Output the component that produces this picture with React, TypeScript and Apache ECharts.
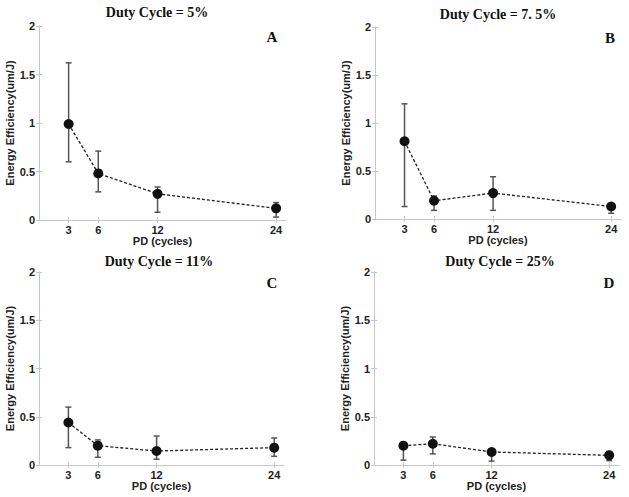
import React, { useEffect, useRef } from "react";
import * as echarts from "echarts";

const pdCycles = [3, 6, 12, 24];
const xTicks = [3, 6, 12, 24];

const titles = ["Duty Cycle = 5%", "Duty Cycle = 7. 5%", "Duty Cycle = 11%", "Duty Cycle = 25%"];
const letters = ["A", "B", "C", "D"];

const meanA = [0.99, 0.48, 0.27, 0.12];
const lowA = [0.6, 0.29, 0.08, 0.03];
const highA = [1.62, 0.71, 0.34, 0.18];

const meanB = [0.81, 0.19, 0.27, 0.13];
const lowB = [0.13, 0.09, 0.09, 0.06];
const highB = [1.2, 0.24, 0.44, 0.16];

const meanC = [0.44, 0.2, 0.145, 0.18];
const lowC = [0.18, 0.08, 0.06, 0.09];
const highC = [0.6, 0.26, 0.3, 0.28];

const meanD = [0.2, 0.22, 0.135, 0.1];
const lowD = [0.05, 0.115, 0.04, 0.045];
const highD = [0.21, 0.29, 0.16, 0.14];

const means = [meanA, meanB, meanC, meanD];
const lows = [lowA, lowB, lowC, lowD];
const highs = [highA, highB, highC, highD];

const grids = [
  { left: 39, top: 26, width: 247, height: 194 },
  { left: 375, top: 27, width: 246, height: 192 },
  { left: 39, top: 272, width: 245, height: 193 },
  { left: 374, top: 272, width: 245, height: 193 },
];
const titlePos = [
  [157, 5],
  [498, 7],
  [159, 254],
  [500, 254],
];
const letterPos = [
  [272, 37],
  [610, 38],
  [272, 283],
  [609, 283],
];

const SANS = "'Liberation Sans', Arial, sans-serif";
const SERIF = "'Liberation Serif', 'Times New Roman', serif";
const frameColor = "#c8c8c8";

export default function App() {
  const ref = useRef<HTMLDivElement>(null);
  useEffect(() => {
    if (!ref.current) return;
    const chart = echarts.init(ref.current, null, { renderer: "svg" });
    const xAxis: any[] = [];
    const yAxis: any[] = [];
    const series: any[] = [];
    grids.forEach((g, i) => {
      xAxis.push({
        type: "value",
        gridIndex: i,
        min: 0,
        max: 25,
        position: "bottom",
        name: "PD (cycles)",
        nameLocation: "middle",
        nameGap: 11,
        nameTextStyle: { fontFamily: SANS, fontWeight: "bold", fontSize: 11, color: "#222" },
        axisLine: { show: true, lineStyle: { color: frameColor, width: 1 } },
        axisTick: { show: true, inside: true, length: 3, customValues: xTicks, lineStyle: { color: frameColor } },
        axisLabel: { show: true, customValues: xTicks, margin: 4, fontFamily: SANS, fontWeight: "bold", fontSize: 11, color: "#222" },
        splitLine: { show: false },
      });
      xAxis.push({
        type: "value",
        gridIndex: i,
        min: 0,
        max: 25,
        position: "top",
        axisLine: { show: true, lineStyle: { color: frameColor, width: 1 } },
        axisTick: { show: true, inside: true, length: 3, customValues: xTicks, lineStyle: { color: frameColor } },
        axisLabel: { show: false },
        splitLine: { show: false },
      });
      yAxis.push({
        type: "value",
        gridIndex: i,
        min: 0,
        max: 2,
        interval: 0.5,
        position: "left",
        name: "Energy Efficiency(um/J)",
        nameLocation: "middle",
        nameGap: 19,
        nameTextStyle: { fontFamily: SANS, fontWeight: "bold", fontSize: 11, color: "#222" },
        axisLine: { show: true, lineStyle: { color: frameColor, width: 1 } },
        axisTick: { show: true, inside: true, length: 3, lineStyle: { color: frameColor } },
        axisLabel: { show: true, margin: 4, fontFamily: SANS, fontWeight: "bold", fontSize: 11, color: "#222", formatter: (v: number) => String(v) },
        splitLine: { show: false },
      });
      yAxis.push({
        type: "value",
        gridIndex: i,
        min: 0,
        max: 2,
        interval: 0.5,
        position: "right",
        axisLine: { show: true, lineStyle: { color: frameColor, width: 1 } },
        axisTick: { show: true, inside: true, length: 3, lineStyle: { color: frameColor } },
        axisLabel: { show: false },
        splitLine: { show: false },
      });
      const errData = pdCycles.map((x, k) => [x, lows[i][k], highs[i][k]]);
      series.push({
        type: "custom",
        xAxisIndex: 2 * i,
        yAxisIndex: 2 * i,
        z: 1,
        data: errData,
        renderItem: (params: any, api: any) => {
          const x = api.value(0);
          const lo = api.coord([x, api.value(1)]);
          const hi = api.coord([x, api.value(2)]);
          const cap = 3;
          const style = { stroke: "#555", lineWidth: 1.5 };
          return {
            type: "group",
            children: [
              { type: "line", shape: { x1: lo[0], y1: lo[1], x2: hi[0], y2: hi[1] }, style },
              { type: "line", shape: { x1: lo[0] - cap, y1: lo[1], x2: lo[0] + cap, y2: lo[1] }, style },
              { type: "line", shape: { x1: hi[0] - cap, y1: hi[1], x2: hi[0] + cap, y2: hi[1] }, style },
            ],
          };
        },
      });
      series.push({
        type: "line",
        xAxisIndex: 2 * i,
        yAxisIndex: 2 * i,
        z: 2,
        data: pdCycles.map((x, k) => [x, means[i][k]]),
        symbol: "circle",
        symbolSize: 10,
        itemStyle: { color: "#111" },
        lineStyle: { color: "#222", width: 1.3, type: [3, 2] },
      });
    });
    chart.setOption({
      animation: false,
      backgroundColor: "#fff",
      title: titles.map((t, i) => ({
        text: t,
        left: titlePos[i][0],
        top: titlePos[i][1],
        textAlign: "center",
        padding: 0,
        textStyle: { fontFamily: SERIF, fontWeight: "bold", fontSize: 14, color: "#111" },
      })),
      grid: grids.map((g) => ({ ...g, containLabel: false })),
      xAxis,
      yAxis,
      series,
      graphic: letters.map((l, i) => ({
        type: "text",
        x: letterPos[i][0],
        y: letterPos[i][1],
        style: {
          text: l,
          fill: "#111",
          font: `bold 15px ${SERIF}`,
          textAlign: "center",
          textVerticalAlign: "middle",
        },
      })),
    });
    return () => chart.dispose();
  }, []);
  return <div ref={ref} style={{ position: "fixed", left: 0, top: 0, width: 629, height: 497 }} />;
}
